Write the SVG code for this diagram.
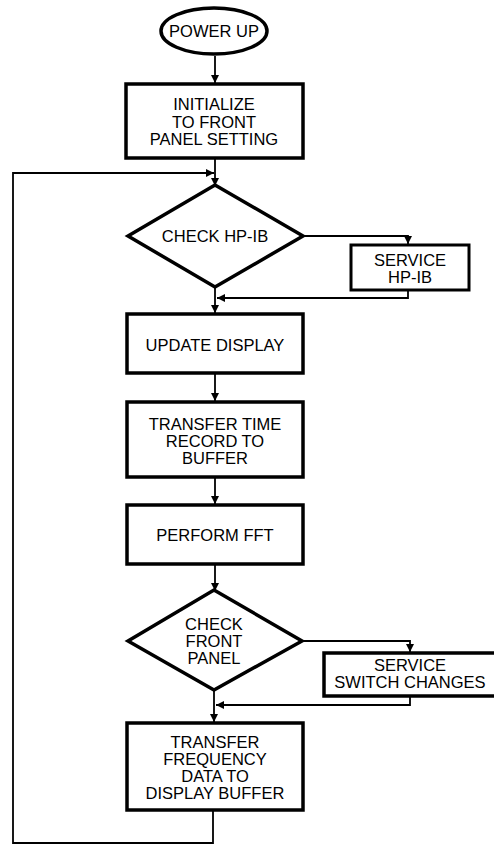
<svg xmlns="http://www.w3.org/2000/svg" width="494" height="845" viewBox="0 0 494 845">
<style>
.node{fill:#fff;stroke:#000;stroke-width:3.5}
.thin{stroke-width:3}
.con{fill:none;stroke:#000;stroke-width:1.8}
text{font-family:"Liberation Sans",Arial,sans-serif;font-size:16.5px;fill:#000;text-anchor:middle}
</style>
<defs>
<marker id="ah" viewBox="0 0 10 10" refX="10" refY="5" markerWidth="9" markerHeight="8" markerUnits="userSpaceOnUse" orient="auto">
<path d="M0,0 L10,5 L0,10 Z" fill="#000"/>
</marker>
</defs>
<rect width="494" height="845" fill="#fff"/>
<g id="connectors">
<line class="con" x1="215" y1="56" x2="215" y2="83" marker-end="url(#ah)"/>
<line class="con" x1="215" y1="158" x2="215" y2="186" marker-end="url(#ah)"/>
<polyline class="con" points="213,810 213,843 13,843 13,173 214,173" marker-end="url(#ah)"/>
<polyline class="con" points="303,236 408,236 408,244" marker-end="url(#ah)"/>
<polyline class="con" points="408,290 408,298 217,298" marker-end="url(#ah)"/>
<line class="con" x1="215" y1="287" x2="215" y2="313" marker-end="url(#ah)"/>
<line class="con" x1="215" y1="373" x2="215" y2="401" marker-end="url(#ah)"/>
<line class="con" x1="215" y1="477" x2="215" y2="504" marker-end="url(#ah)"/>
<line class="con" x1="215" y1="564" x2="215" y2="591" marker-end="url(#ah)"/>
<polyline class="con" points="302,641 410,641 410,652" marker-end="url(#ah)"/>
<polyline class="con" points="410,696 410,705 216,705" marker-end="url(#ah)"/>
<line class="con" x1="214" y1="690" x2="214" y2="722" marker-end="url(#ah)"/>
</g>
<g id="power-up">
<ellipse class="node" cx="214" cy="31" rx="53" ry="23"/>
<text x="214" y="37">POWER UP</text>
</g>
<g id="initialize">
<rect class="node" x="126" y="84" width="177" height="74"/>
<text x="214" y="110">INITIALIZE</text>
<text x="214" y="128">TO FRONT</text>
<text x="214" y="145">PANEL SETTING</text>
</g>
<g id="check-hpib">
<polygon class="node" points="215,185 303,236 215,287 128,236"/>
<text x="215" y="242">CHECK HP-IB</text>
</g>
<g id="service-hpib">
<rect class="node thin" x="351" y="245" width="118" height="45"/>
<text x="410" y="266">SERVICE</text>
<text x="410" y="283">HP-IB</text>
</g>
<g id="update-display">
<rect class="node" x="127" y="314" width="176" height="59"/>
<text x="215" y="351">UPDATE DISPLAY</text>
</g>
<g id="transfer-time">
<rect class="node" x="127" y="402" width="176" height="75"/>
<text x="215" y="430">TRANSFER TIME</text>
<text x="215" y="447">RECORD TO</text>
<text x="215" y="464">BUFFER</text>
</g>
<g id="perform-fft">
<rect class="node" x="127" y="505" width="176" height="59"/>
<text x="215" y="541">PERFORM FFT</text>
</g>
<g id="check-front-panel">
<polygon class="node" points="214,590 302,641 214,690 128,641"/>
<text x="214" y="630">CHECK</text>
<text x="214" y="647">FRONT</text>
<text x="214" y="664">PANEL</text>
</g>
<g id="service-switch">
<rect class="node" x="324" y="653" width="174" height="43"/>
<text x="410" y="671">SERVICE</text>
<text x="410" y="688">SWITCH CHANGES</text>
</g>
<g id="transfer-frequency">
<rect class="node" x="127" y="723" width="176" height="87"/>
<text x="215" y="748">TRANSFER</text>
<text x="215" y="765">FREQUENCY</text>
<text x="215" y="782">DATA TO</text>
<text x="215" y="799">DISPLAY BUFFER</text>
</g>
</svg>
